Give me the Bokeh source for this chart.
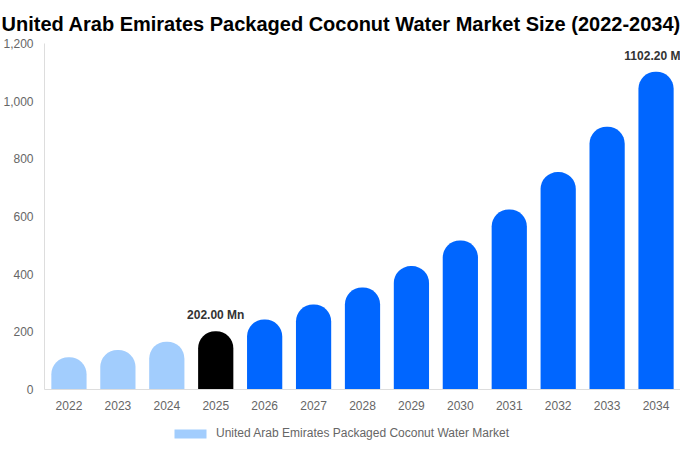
from bokeh.plotting import figure
from bokeh.layouts import column
from bokeh.models import ColumnDataSource, Legend, LegendItem, NumeralTickFormatter
from bokeh.embed import file_html
from bokeh.resources import INLINE

# Data
years = ["2022", "2023", "2024", "2025", "2026", "2027", "2028",
         "2029", "2030", "2031", "2032", "2033", "2034"]
market_size = [112, 137, 166, 202.0, 243, 295, 354, 428, 517, 624, 754, 911, 1102.2]

label_years = ["2025", "2034"]
label_values = [202.00, 1102.20]

series_name = "United Arab Emirates Packaged Coconut Water Market"
base_year = "2025"

# historic = light blue, base year = black, forecast = blue
colors = []
for y in years:
    if y < base_year:
        colors.append("#a2cdfd")
    elif y == base_year:
        colors.append("#000000")
    else:
        colors.append("#0066ff")

source = ColumnDataSource(data=dict(years=years, size=market_size, color=colors))
labels = ColumnDataSource(data=dict(
    years=label_years,
    value=label_values,
    text=["%.2f Mn" % v for v in label_values],
))

p = figure(x_range=years, y_range=(0, 1200), width=680, height=420,
           title="United Arab Emirates Packaged Coconut Water Market Size (2022-2034)",
           toolbar_location=None, tools="", output_backend="svg",
           min_border_left=44, min_border_right=0, min_border_top=43,
           min_border_bottom=31)

bars = p.vbar(x="years", top="size", width=0.72, source=source,
              fill_color="color", line_color=None, border_radius=[17, 17, 0, 0])

p.text(x="years", y="value", text="text", source=labels,
       text_align="center", text_baseline="bottom", y_offset=-9,
       text_font_size="12px", text_font_style="bold", text_color="#333333",
       text_font={"value": "Liberation Sans"})

# Title
p.title.text_font = "Liberation Sans"
p.title.text_font_size = "20px"
p.title.text_font_style = "bold"
p.title.text_color = "#000000"
p.title.align = "left"
p.title.offset = -43
p.title.standoff = 18

# Axes
for ax in (p.xaxis, p.yaxis):
    ax.axis_line_color = "#dddddd"
    ax.major_tick_line_color = None
    ax.minor_tick_line_color = None
    ax.major_tick_out = 0
    ax.major_label_text_font = "Liberation Sans"
    ax.major_label_text_font_size = "12px"
    ax.major_label_text_color = "#666666"
p.yaxis.formatter = NumeralTickFormatter(format="0,0")
p.yaxis.ticker = [0, 200, 400, 600, 800, 1000, 1200]
p.yaxis.major_label_standoff = 11
p.xaxis.major_label_standoff = 11

p.xgrid.grid_line_color = None
p.ygrid.grid_line_color = None
p.outline_line_color = None

# legend strip under the chart (bars kept out of its view, only the key is shown)
# its frame lines up with the main frame in the column, so place it by offset
leg = figure(x_range=years, y_range=(2000, 2010), width=680, height=26,
             toolbar_location=None, tools="", output_backend="svg",
             x_axis_location=None, y_axis_location=None, min_border=0)
leg_bars = leg.vbar(x="years", top="size", width=0.72, source=source,
                    fill_color="color", line_color=None)
leg.grid.grid_line_color = None
leg.outline_line_color = None

legend = Legend(items=[LegendItem(label=series_name, renderers=[leg_bars], index=0)],
                orientation="horizontal", location=(126, 6),
                label_text_font="Liberation Sans", label_text_font_size="12px",
                label_text_color="#666666", glyph_width=40, glyph_height=11,
                label_standoff=6, border_line_color=None,
                background_fill_alpha=0, padding=0, margin=0)
leg.add_layout(legend)

layout = column(p, leg)

open("out.html", "w").write(file_html(layout, INLINE))
